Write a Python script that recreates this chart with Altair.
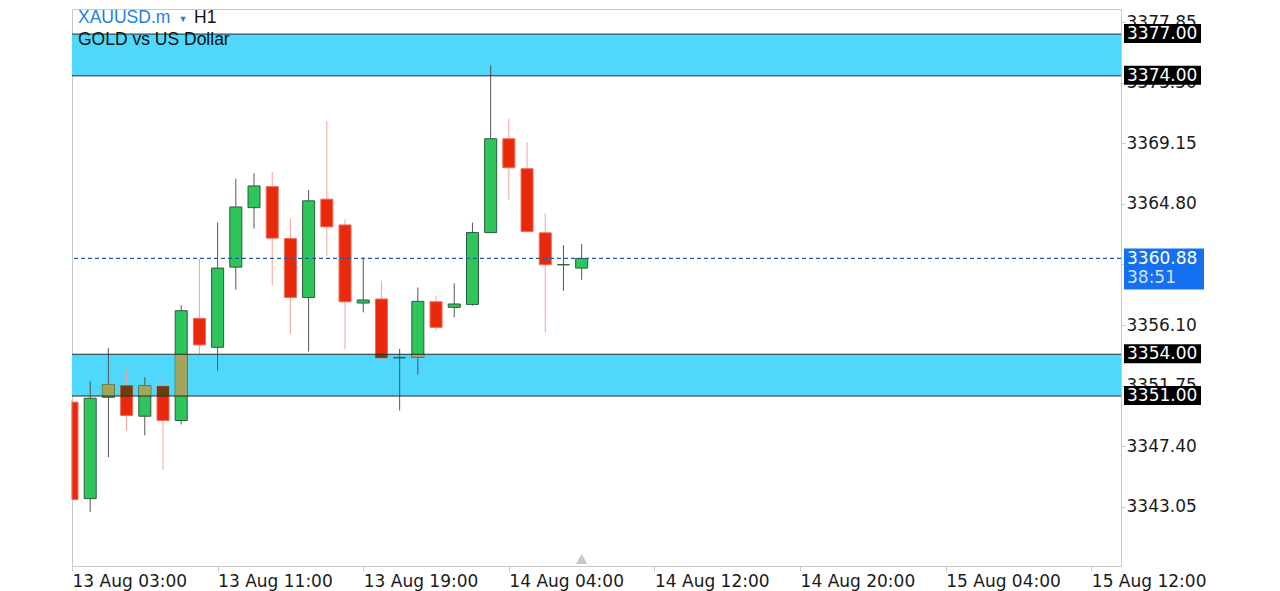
import altair as alt
import pandas as pd

# ---------------- data ----------------
symbol = "XAUUSD.m"
timeframe = "H1"
description = "GOLD vs US Dollar"

bar_index = list(range(29))
opens  = [3350.56, 3343.63, 3350.91, 3351.75, 3349.55, 3351.70, 3349.24, 3356.58, 3354.50, 3360.26,
          3364.53, 3366.04, 3362.31, 3358.08, 3365.14, 3363.29, 3357.68, 3357.97, 3353.75, 3353.78,
          3357.77, 3357.37, 3357.58, 3362.74, 3369.48, 3367.33, 3362.72, 3360.43, 3360.19]
highs  = [3350.70, 3352.06, 3354.46, 3352.95, 3352.35, 3352.11, 3357.54, 3360.84, 3363.46, 3366.61,
          3367.00, 3367.09, 3363.75, 3365.80, 3370.75, 3363.70, 3360.95, 3359.28, 3354.38, 3358.80,
          3358.21, 3359.09, 3363.46, 3374.74, 3370.91, 3369.24, 3364.13, 3361.84, 3361.91]
lows   = [3343.50, 3342.67, 3346.61, 3348.53, 3348.17, 3345.71, 3348.96, 3354.03, 3352.83, 3358.64,
          3363.03, 3358.97, 3355.46, 3354.19, 3361.07, 3354.38, 3357.01, 3352.71, 3349.96, 3352.54,
          3355.70, 3356.65, 3357.49, 3362.72, 3365.09, 3362.78, 3355.57, 3358.56, 3359.35]
closes = [3343.56, 3350.84, 3351.83, 3349.60, 3351.75, 3349.24, 3357.13, 3354.67, 3360.19, 3364.58,
          3366.09, 3362.34, 3358.08, 3365.02, 3363.15, 3357.77, 3357.90, 3353.74, 3353.75, 3357.80,
          3355.93, 3357.61, 3362.74, 3369.48, 3367.40, 3362.81, 3360.43, 3360.43, 3360.88]

tick_index = [0, 8, 16, 24, 32, 40, 48, 56]
tick_labels = ["13 Aug 03:00", "13 Aug 11:00", "13 Aug 19:00", "14 Aug 04:00",
               "14 Aug 12:00", "14 Aug 20:00", "15 Aug 04:00", "15 Aug 12:00"]

price_ticks = [3343.05, 3347.40, 3351.75, 3356.10, 3360.45, 3364.80, 3369.15, 3373.50, 3377.85]

zone_low = [3351.0, 3374.0]
zone_high = [3354.0, 3377.0]

current_price = 3360.88
countdown = "38:51"

# ---------------- styling ----------------
W, H = 1049, 557
AXFONT = "DejaVu Sans"
TFONT = "Liberation Sans"
UP, DOWN = "#2ec55c", "#e8290c"
UP_EDGE, DOWN_EDGE = "#2d5a3c", "#f06a55"
UP_WICK, DOWN_WICK = "#555555", "#f4a19a"
ZONE = "#4fd8fb"
UP_IN_ZONE, DOWN_IN_ZONE = "#a4a45a", "#6b3e10"

X_SCALE = alt.Scale(domain=[0, 57.63], nice=False, zero=False)
Y_SCALE = alt.Scale(domain=[3338.79, 3378.80], nice=False, zero=False)

label_expr = " : ".join(f"datum.value == {v} ? '{t}'" for v, t in zip(tick_index, tick_labels)) + " : ''"

x_axis = alt.Axis(values=tick_index, labelExpr=label_expr, title=None, orient="bottom", grid=False,
                  domain=False, tickColor="#c8c8c8", tickSize=5, labelAlign="left", labelBaseline="top",
                  labelPadding=2, labelFlush=False, labelOverlap=False, labelFont=AXFONT,
                  labelFontSize=17, labelColor="#1a1a1a", labelBound=False)
y_axis = alt.Axis(values=price_ticks, format=".2f", orient="right", title=None, grid=False,
                  domain=False, tickColor="#c8c8c8", tickSize=4, labelPadding=1, labelFont=AXFONT,
                  labelFontSize=17, labelColor="#1a1a1a", labelOverlap=False, labelFlush=False,
                  labelBaseline="middle", labelBound=False)

candles = pd.DataFrame({"idx": bar_index, "open": opens, "high": highs, "low": lows, "close": closes})
zones = pd.DataFrame({"lo": zone_low, "hi": zone_high})
edges = pd.DataFrame({"level": zone_low + zone_high})
cur = pd.DataFrame({"price": [current_price], "cd": [countdown], "idx": [bar_index[-1]]})

is_up = "datum.close >= datum.open"

def X(field):
    return alt.X(field, scale=X_SCALE, axis=x_axis, title=None)

def Y(field):
    return alt.Y(field, scale=Y_SCALE, axis=y_axis, title=None)

zone_fill = alt.Chart(zones).mark_rect(color=ZONE).encode(
    y=Y("lo:Q"), y2="hi:Q", x=alt.value(0), x2=alt.value(W))

wicks = alt.Chart(candles).mark_rule(strokeWidth=1).encode(
    x=X("idx:Q"), y=Y("low:Q"), y2="high:Q",
    color=alt.condition(is_up, alt.value(UP_WICK), alt.value(DOWN_WICK)))

bodies = alt.Chart(candles).transform_calculate(
    bx1="max(datum.idx - 0.33, 0)", bx2="datum.idx + 0.33",
    blo="min(datum.open, datum.close)", bhi="max(datum.open, datum.close)"
).mark_rect(strokeWidth=1).encode(
    x=X("bx1:Q"), x2="bx2:Q", y=Y("blo:Q"), y2="bhi:Q",
    fill=alt.condition(is_up, alt.value(UP), alt.value(DOWN)),
    stroke=alt.condition(is_up, alt.value(UP_EDGE), alt.value(DOWN_EDGE)))

overlays = []
for lo, hi in zip(zone_low, zone_high):
    overlays.append(alt.Chart(candles).transform_calculate(
        bx1="max(datum.idx - 0.33, 0)", bx2="datum.idx + 0.33",
        zlo=f"max(min(datum.open, datum.close), {lo})",
        zhi=f"min(max(datum.open, datum.close), {hi})"
    ).transform_filter("datum.zhi > datum.zlo").mark_rect().encode(
        x=X("bx1:Q"), x2="bx2:Q", y=Y("zlo:Q"), y2="zhi:Q",
        fill=alt.condition(is_up, alt.value(UP_IN_ZONE), alt.value(DOWN_IN_ZONE))))

edge_rules = alt.Chart(edges).mark_rule(color="#2b2b2b", strokeWidth=1).encode(y=Y("level:Q"))

price_line = alt.Chart(cur).mark_rule(color="#1d5fae", strokeWidth=1.3, strokeDash=[4, 3]).encode(
    y=Y("price:Q"))

edge_boxes = alt.Chart(edges).mark_rect(color="#000000", yOffset=-10, y2Offset=9).encode(
    y=Y("level:Q"), y2="level:Q", x=alt.value(1052), x2=alt.value(1129))
edge_text = alt.Chart(edges).transform_calculate(lab="format(datum.level, '.2f')").mark_text(
    align="left", baseline="middle", font=AXFONT, fontSize=17, color="#ffffff").encode(
    y=Y("level:Q"), x=alt.value(1055), text="lab:N")

cur_box = alt.Chart(cur).mark_rect(color="#1470f0", yOffset=-10, y2Offset=31).encode(
    y=Y("price:Q"), y2="price:Q", x=alt.value(1052), x2=alt.value(1132))
cur_text = alt.Chart(cur).transform_calculate(lab="format(datum.price, '.2f')").mark_text(
    align="left", baseline="middle", font=AXFONT, fontSize=17, color="#ffffff", dy=1).encode(
    y=Y("price:Q"), x=alt.value(1055), text="lab:N")
cd_text = alt.Chart(cur).mark_text(
    align="left", baseline="middle", font=AXFONT, fontSize=17, color="#cfe0ff", dy=20).encode(
    y=Y("price:Q"), x=alt.value(1055), text="cd:N")

marker = alt.Chart(cur).mark_point(shape="triangle-up", filled=True, size=130, color="#c8c8c8",
                                   opacity=1).encode(x=X("idx:Q"), y=alt.value(550))

title_df = pd.DataFrame({"sym": [symbol], "tf": [timeframe], "desc": [description], "arrow": ["▼"]})
t_sym = alt.Chart(title_df).mark_text(align="left", baseline="middle", font=TFONT, fontSize=17.5,
                                      color="#1e7fe0").encode(x=alt.value(6), y=alt.value(9), text="sym:N")
t_arrow = alt.Chart(title_df).mark_text(align="center", baseline="middle", font=TFONT, fontSize=9,
                                        color="#1e7fe0").encode(x=alt.value(111), y=alt.value(10), text="arrow:N")
t_tf = alt.Chart(title_df).mark_text(align="left", baseline="middle", font=TFONT, fontSize=17.5,
                                     color="#111111").encode(x=alt.value(122), y=alt.value(9), text="tf:N")
t_desc = alt.Chart(title_df).mark_text(align="left", baseline="middle", font=TFONT, fontSize=17.5,
                                       color="#111111").encode(x=alt.value(6), y=alt.value(31), text="desc:N")

chart = alt.layer(
    zone_fill, wicks, bodies, *overlays, edge_rules, price_line, marker,
    edge_boxes, edge_text, cur_box, cur_text, cd_text,
    t_sym, t_arrow, t_tf, t_desc
).properties(
    width=W, height=H, padding={"left": 63, "top": 1, "right": 5, "bottom": 5}, background="#ffffff"
).configure_view(stroke="#c8c8c8", strokeWidth=1)

chart.save("out.html", embed_options={"renderer": "svg", "actions": False})
